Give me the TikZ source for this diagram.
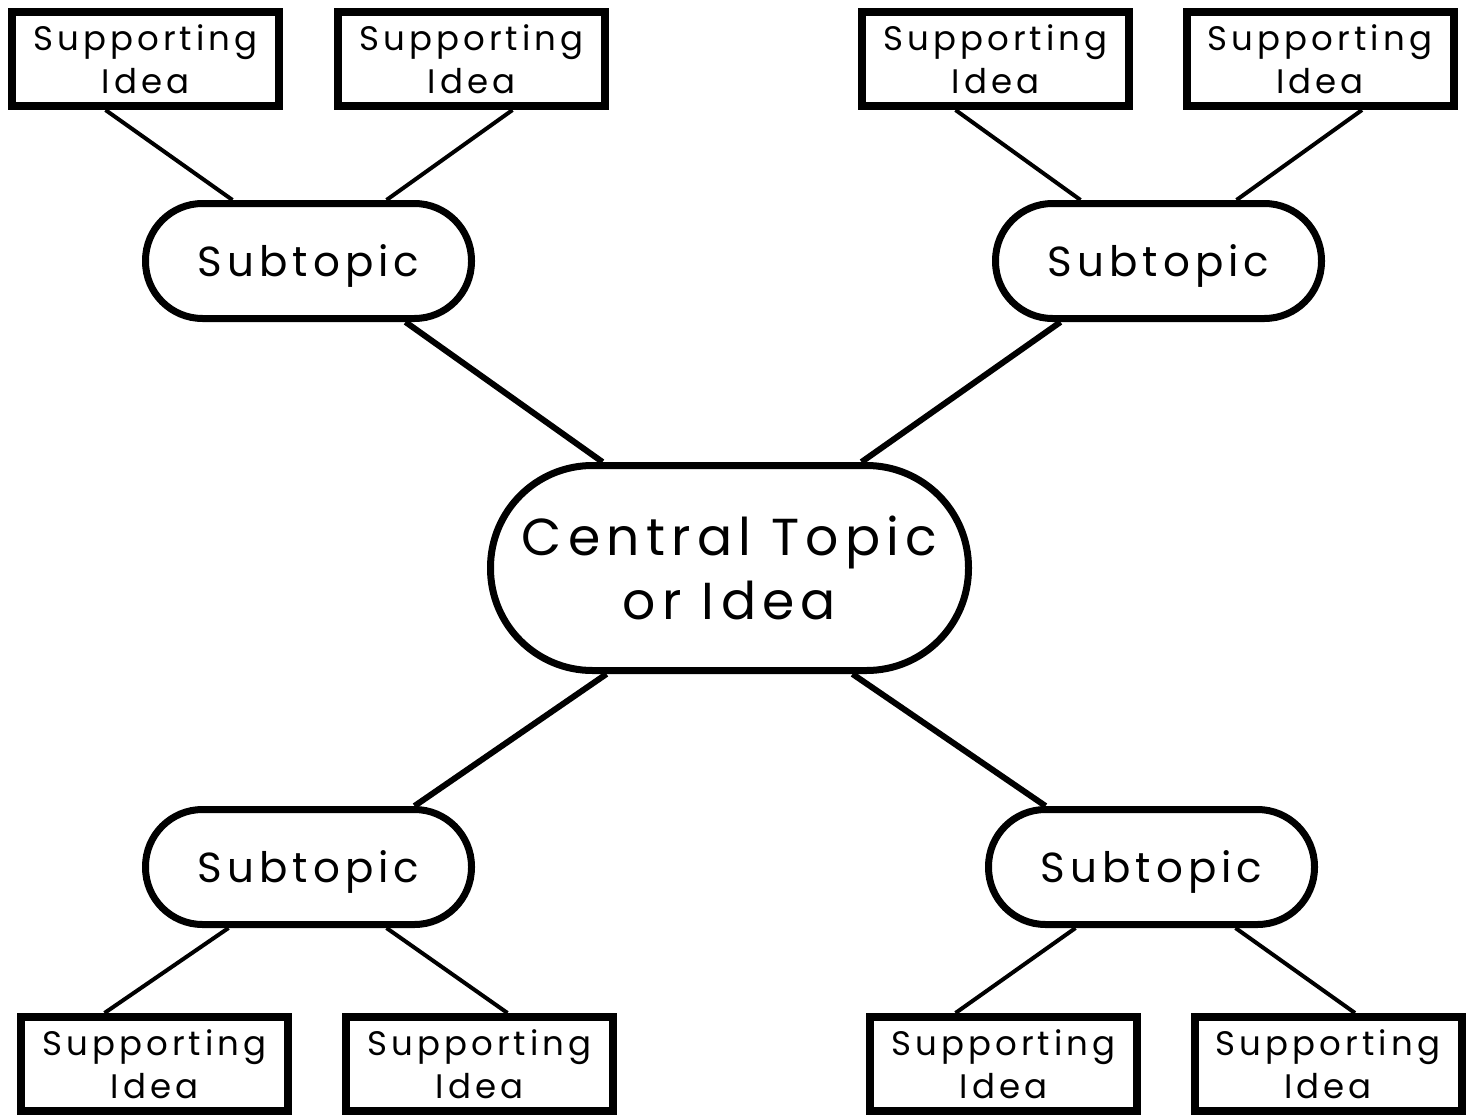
\documentclass[tikz,border=0pt]{standalone}
\usepackage{fontspec}
\setmainfont{Poppins}[LetterSpace=12]
\usetikzlibrary{backgrounds}
\begin{document}
\begin{tikzpicture}[x=1pt,y=-1pt,
  suppbox/.style={draw,line width=8pt,fill=white,minimum width=267pt,minimum height=94pt,inner sep=0pt,align=center,font=\fontsize{34}{43}\selectfont},
  subbox/.style={draw,line width=7pt,fill=white,minimum width=326pt,minimum height=115pt,rounded corners=57pt,inner sep=0pt,text depth=1pt,font=\fontsize{42}{44}\selectfont},
  centbox/.style={draw,line width=7pt,fill=white,minimum width=478pt,minimum height=205pt,rounded corners=102pt,inner sep=0pt,align=center,font=\fontsize{52}{64}\selectfont},
  thin/.style={line width=4pt},
  thick/.style={line width=6pt}]
\useasboundingbox (0,0) rectangle (1475,1116);
\node[centbox] (c) at (729.5,568) {Central Topic\\or Idea};
\node[subbox] (s1) at (308.5,261) {Subtopic};
\node[subbox] (s2) at (1158.5,261) {Subtopic};
\node[subbox] (s3) at (308.5,867) {Subtopic};
\node[subbox] (s4) at (1151.5,867) {Subtopic};
\node[suppbox] (a1) at (145.5,59) {Supporting\\Idea};
\node[suppbox] (a2) at (471.5,59) {Supporting\\Idea};
\node[suppbox] (b1) at (995.5,59) {Supporting\\Idea};
\node[suppbox] (b2) at (1320,59) {Supporting\\Idea};
\node[suppbox] (d1) at (154.5,1064) {Supporting\\Idea};
\node[suppbox] (d2) at (479.5,1064) {Supporting\\Idea};
\node[suppbox] (e1) at (1003.5,1064) {Supporting\\Idea};
\node[suppbox] (e2) at (1328,1064) {Supporting\\Idea};
\begin{scope}[on background layer]
\draw[thin] ([xshift=-40pt]a1.south) -- ([xshift=-76pt]s1.north);
\draw[thin] ([xshift=41pt]a2.south) -- ([xshift=78pt]s1.north);
\draw[thin] ([xshift=-40pt]b1.south) -- ([xshift=-78pt]s2.north);
\draw[thin] ([xshift=42pt]b2.south) -- ([xshift=78pt]s2.north);
\draw[thin] ([xshift=-80pt]s3.south) -- ([xshift=-50pt]d1.north);
\draw[thin] ([xshift=78pt]s3.south) -- ([xshift=28pt]d2.north);
\draw[thin] ([xshift=-76pt]s4.south) -- ([xshift=-48pt]e1.north);
\draw[thin] ([xshift=84pt]s4.south) -- ([xshift=27pt]e2.north);
\draw[thick] ([xshift=97pt]s1.south) -- ([xshift=-127pt]c.north);
\draw[thick] ([xshift=-98pt]s2.south) -- ([xshift=132pt]c.north);
\draw[thick] ([xshift=-123pt]c.south) -- ([xshift=106pt]s3.north);
\draw[thick] ([xshift=123pt]c.south) -- ([xshift=-106pt]s4.north);
\end{scope}
\end{tikzpicture}
\end{document}
